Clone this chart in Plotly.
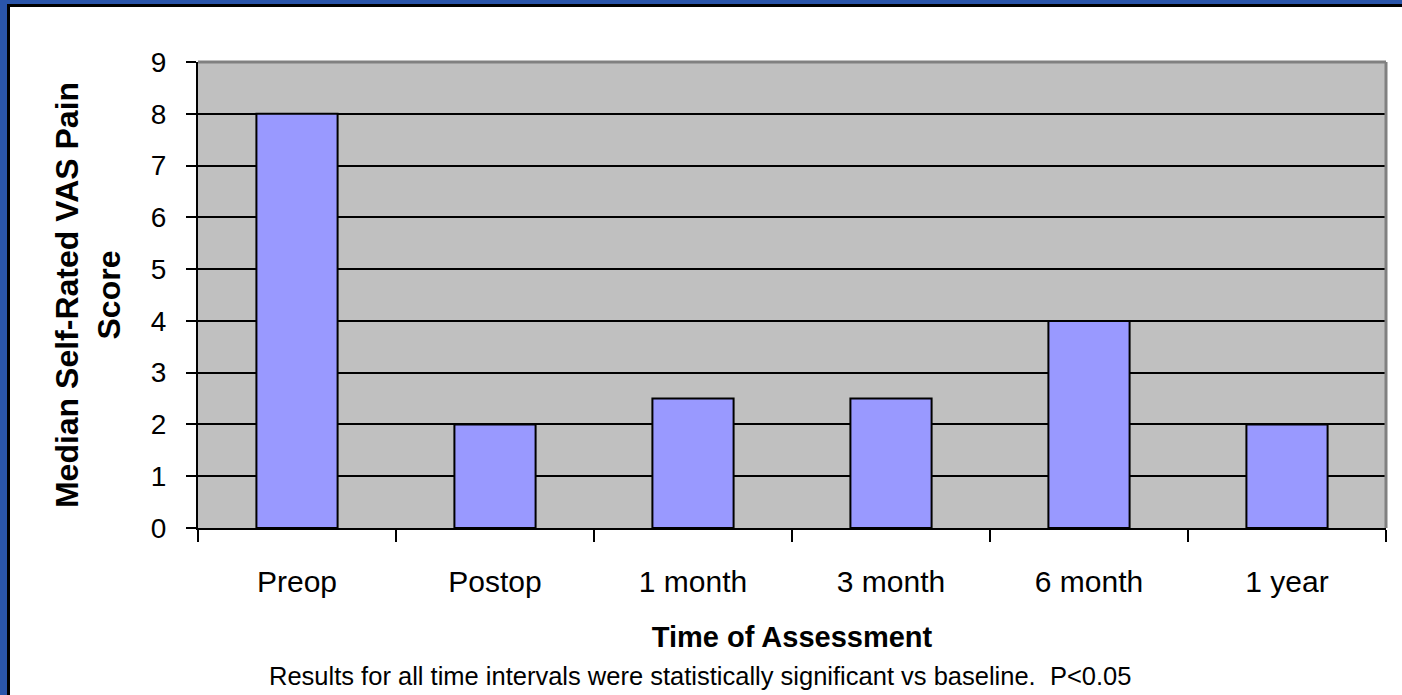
import plotly.graph_objects as go

categories = ["Preop", "Postop", "1 month", "3 month", "6 month", "1 year"]
median_vas = [8, 2, 2.5, 2.5, 4, 2]
y_ticks = [0, 1, 2, 3, 4, 5, 6, 7, 8, 9]

W, H = 1402, 695
ML, MR, MT, MB = 198, 16, 62, 167
PW, PH = W - ML - MR, H - MT - MB


def px(xp):
    return (xp - ML) / PW


def py(yp):
    return (H - MB - yp) / PH


FONT = "Arial, Liberation Sans, sans-serif"
BLUE = "#2A55AA"

fig = go.Figure()
fig.add_trace(go.Bar(
    x=categories,
    y=median_vas,
    marker=dict(color="#9999FF", line=dict(color="black", width=2)),
    hoverinfo="x+y",
))

shapes = [
    # frame
    dict(type="rect", xref="paper", yref="paper", x0=px(0), x1=px(7), y0=py(H), y1=py(0),
         fillcolor=BLUE, line=dict(width=0), layer="below"),
    dict(type="rect", xref="paper", yref="paper", x0=px(0), x1=px(W), y0=py(4), y1=py(0),
         fillcolor=BLUE, line=dict(width=0), layer="below"),
    dict(type="rect", xref="paper", yref="paper", x0=px(7), x1=px(10), y0=py(H), y1=py(4),
         fillcolor="black", line=dict(width=0), layer="below"),
    dict(type="rect", xref="paper", yref="paper", x0=px(7), x1=px(W), y0=py(7), y1=py(4),
         fillcolor="black", line=dict(width=0), layer="below"),
    # plot border top / right (gray)
    dict(type="line", xref="x domain", yref="y domain", x0=0, x1=1, y0=1, y1=1,
         line=dict(color="#808080", width=3), layer="above"),
    dict(type="line", xref="x domain", yref="y domain", x0=1, x1=1, y0=0, y1=1,
         line=dict(color="#808080", width=3), layer="above"),
]

fig.update_layout(
    width=W, height=H,
    margin=dict(l=ML, r=MR, t=MT, b=MB, autoexpand=False),
    paper_bgcolor="white",
    plot_bgcolor="#C0C0C0",
    bargap=0.59,
    showlegend=False,
    font=dict(family=FONT, color="black"),
    shapes=shapes,
    xaxis=dict(
        type="category",
        tickson="boundaries",
        ticks="outside", ticklen=12, tickwidth=2, tickcolor="black",
        showline=True, linecolor="black", linewidth=2,
        showgrid=False, zeroline=False,
        tickfont=dict(size=30, family=FONT),
        ticklabelstandoff=26,
        title=dict(text="<b>Time of Assessment</b>", font=dict(size=29, family=FONT), standoff=30),
    ),
    yaxis=dict(
        range=[0, 9],
        tickvals=y_ticks,
        ticks="outside", ticklen=10, tickwidth=2, tickcolor="black",
        showline=True, linecolor="black", linewidth=2,
        showgrid=True, gridcolor="black", gridwidth=2,
        zeroline=False,
        tickfont=dict(size=28, family=FONT),
        ticklabelstandoff=14,
        title=dict(text="<b>Median Self-Rated VAS Pain<br>Score</b>", font=dict(size=32, family=FONT), standoff=21),
    ),
    annotations=[
        dict(text="Results for all time intervals were statistically significant vs baseline.  P&lt;0.05",
             xref="paper", yref="paper", x=px(700), y=py(676), xanchor="center", yanchor="middle",
             showarrow=False, font=dict(size=25.5, family=FONT, color="black")),
    ],
)

fig.write_html("out.html", config={"displayModeBar": False},
               post_script="document.body.style.margin='0';document.body.style.overflow='hidden';")
